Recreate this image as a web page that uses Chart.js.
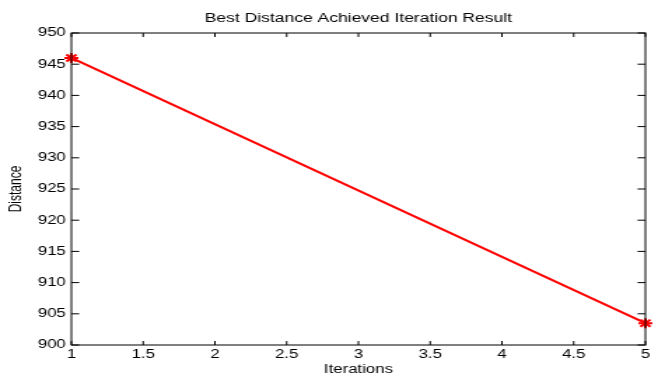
<!DOCTYPE html>
<html>
<head>
<meta charset="utf-8">
<script src="https://cdn.jsdelivr.net/npm/chart.js@4/dist/chart.umd.min.js"></script>
<style>
  html, body { margin: 0; padding: 0; background: #fff; overflow: hidden; }
  /* the reference is stretched sideways, so draw narrow and widen it */
  #wrap { width: 473px; height: 377px; transform: scaleX(1.4); transform-origin: 0 0; }
</style>
</head>
<body>
<div id="wrap"><canvas id="chart"></canvas></div>
<script>
// data
const iterations = [1, 5];
const bestDistance = [946, 903.5];
const xTicks = [1, 1.5, 2, 2.5, 3, 3.5, 4, 4.5, 5];
const yTicks = [900, 905, 910, 915, 920, 925, 930, 935, 940, 945, 950];

const font = { family: "Liberation Sans, Arial, sans-serif", size: 12 };

// MATLAB style box with inward tick marks on all sides
const boxTicks = {
  id: "boxTicks",
  afterDraw(chart) {
    const ctx = chart.ctx;
    const a = chart.chartArea;
    const xs = chart.scales.x;
    const ys = chart.scales.y;
    const len = 4;
    ctx.save();
    ctx.strokeStyle = "#000";
    ctx.lineWidth = 1;
    ctx.strokeRect(a.left, a.top, a.right - a.left, a.bottom - a.top);
    ctx.beginPath();
    xTicks.forEach((v) => {
      const px = xs.getPixelForValue(v);
      ctx.moveTo(px, a.bottom);
      ctx.lineTo(px, a.bottom - len);
      ctx.moveTo(px, a.top);
      ctx.lineTo(px, a.top + len);
    });
    yTicks.forEach((v) => {
      const py = ys.getPixelForValue(v);
      ctx.moveTo(a.left, py);
      ctx.lineTo(a.left + len * 1.4, py);
      ctx.moveTo(a.right, py);
      ctx.lineTo(a.right - len * 1.4, py);
    });
    ctx.stroke();
    ctx.restore();
  },
};

new Chart(document.getElementById("chart"), {
  type: "scatter",
  data: {
    datasets: [
      {
        label: "Best Distance",
        data: iterations.map((x, i) => ({ x: x, y: bestDistance[i] })),
        showLine: true,
        borderColor: "#ff0000",
        backgroundColor: "#ff0000",
        borderWidth: 2,
        pointStyle: "star",
        pointRadius: 5,
        pointBorderWidth: 2,
        pointBorderColor: "#ff0000",
        clip: false,
      },
    ],
  },
  options: {
    responsive: true,
    maintainAspectRatio: false,
    animation: false,
    layout: { padding: { left: 0, right: 12, top: 0, bottom: 0 } },
    plugins: {
      legend: { display: false },
      tooltip: { enabled: false },
      title: {
        display: true,
        fullSize: false,
        text: "Best Distance Achieved Iteration Result",
        color: "#000",
        font: { ...font, size: 12.5, weight: "normal" },
        padding: { top: 11, bottom: 7 },
      },
    },
    scales: {
      x: {
        type: "linear",
        min: 1,
        max: 5,
        grid: { display: false, drawTicks: false },
        border: { display: false },
        ticks: {
          stepSize: 0.5,
          color: "#000",
          font: font,
          padding: 2,
          maxRotation: 0,
          callback: (v) => String(v),
        },
        title: { display: true, text: "Iterations", color: "#000", font: font, padding: { top: 0, bottom: 0 } },
        afterFit: (scale) => { scale.height = 32; },
      },
      y: {
        min: 900,
        max: 950,
        grid: { display: false, drawTicks: false },
        border: { display: false },
        ticks: { stepSize: 5, color: "#000", font: font, padding: 4 },
        title: { display: true, text: "Distance", color: "#000", font: font, padding: { top: 4, bottom: 0 } },
        afterFit: (scale) => { scale.width = 51; },
      },
    },
  },
  plugins: [boxTicks],
});
</script>
</body>
</html>
